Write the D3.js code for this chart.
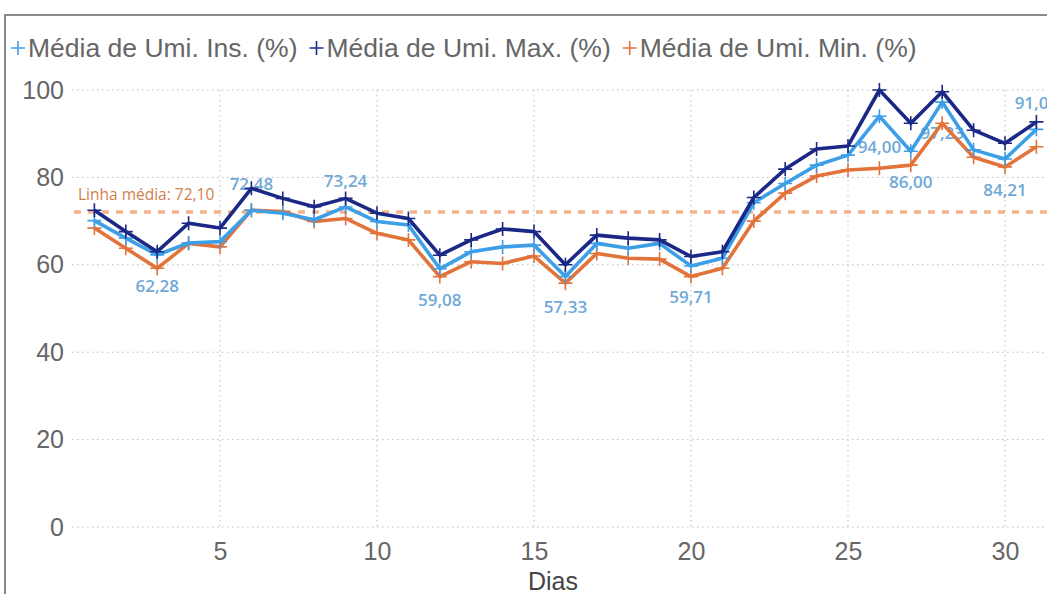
<!DOCTYPE html>
<html lang="pt">
<head>
    <meta charset="UTF-8">
    <title>Umidade por dia</title>
    <script src="https://d3js.org/d3.v7.min.js"></script>
    <style>
        body { margin: 0; background: #fff; }
    </style>
</head>
<body>
<script>
    // dados
    var dias = [1, 2, 3, 4, 5, 6, 7, 8, 9, 10, 11, 12, 13, 14, 15, 16, 17, 18, 19, 20, 21, 22, 23, 24, 25, 26, 27, 28, 29, 30, 31];
    var umiIns = [70.1, 66.1, 62.28, 65.0, 65.3, 72.48, 71.8, 70.3, 73.24, 69.9, 69.1, 59.08, 63.0, 64.1, 64.5, 57.33,
        64.9, 63.8, 64.9, 59.71, 61.5, 74.2, 78.6, 82.8, 85.1, 94.00, 86.00, 97.23, 86.3, 84.21, 91.00];
    var umiMax = [72.5, 67.6, 63.0, 69.5, 68.4, 77.5, 75.2, 73.3, 75.2, 71.8, 70.6, 62.2, 65.7, 68.2, 67.6, 60.0,
        66.8, 66.1, 65.7, 61.9, 63.0, 75.4, 81.9, 86.5, 87.2, 100.0, 92.4, 99.6, 90.8, 87.8, 92.7];
    var umiMin = [68.4, 63.8, 59.2, 64.9, 64.1, 72.5, 72.2, 69.9, 70.6, 67.2, 65.7, 57.3, 60.7, 60.3, 62.0, 55.8,
        62.6, 61.5, 61.3, 57.3, 59.2, 70.0, 76.4, 80.3, 81.7, 82.1, 82.8, 92.4, 84.6, 82.4, 87.0];
    var linhaMedia = 72.10;
    var seriesNomes = ["Média de Umi. Ins. (%)", "Média de Umi. Max. (%)", "Média de Umi. Min. (%)"];
    var xTicks = [5, 10, 15, 20, 25, 30];
    var yTicks = [0, 20, 40, 60, 80, 100];
    // dias com rótulo de dados (série Ins.) e se o rótulo fica acima
    var rotuloDias = [3, 6, 9, 12, 16, 20, 26, 27, 28, 30, 31];
    var rotuloAcima = [false, true, true, false, false, false, false, false, false, false, true];

    var W = 1047, H = 594;
    var cores = ["#3d9fe6", "#1b2886", "#e2733a"];

    var svg = d3.select("body").append("svg")
        .attr("width", W)
        .attr("height", H)
        .style("font-family", "'Liberation Sans', Arial, sans-serif");

    // moldura do visual
    svg.append("path")
        .attr("d", "M5," + H + "V15H" + W)
        .attr("fill", "none")
        .attr("stroke", "#8a8a8a")
        .attr("stroke-width", 2);

    var x = d3.scaleLinear().domain([1, 31]).range([94.4, 1036.4]);
    var y = d3.scaleLinear().domain([0, 100]).range([527, 90]);

    // grade horizontal
    svg.append("g").selectAll("line")
        .data(yTicks)
        .enter().append("line")
        .attr("x1", 72).attr("x2", W)
        .attr("y1", function(d) { return y(d); })
        .attr("y2", function(d) { return y(d); })
        .attr("stroke", "#bdbdbd")
        .attr("stroke-width", 1)
        .attr("stroke-dasharray", "1.5,3.5");

    // grade vertical
    svg.append("g").selectAll("line")
        .data(xTicks)
        .enter().append("line")
        .attr("x1", function(d) { return x(d); })
        .attr("x2", function(d) { return x(d); })
        .attr("y1", y(100)).attr("y2", y(0))
        .attr("stroke", "#bdbdbd")
        .attr("stroke-width", 1)
        .attr("stroke-dasharray", "1.5,3.5");

    // eixo Y
    var yAxis = svg.append("g")
        .attr("transform", "translate(64,0)")
        .call(d3.axisLeft(y).tickValues(yTicks).tickSize(0).tickPadding(0));
    yAxis.select(".domain").remove();
    yAxis.selectAll("text")
        .attr("fill", "#666")
        .style("font-size", "25px")
        .style("font-family", "'Liberation Sans', Arial, sans-serif");

    // eixo X
    var xAxis = svg.append("g")
        .attr("transform", "translate(0," + 542 + ")")
        .call(d3.axisBottom(x).tickValues(xTicks).tickSize(0).tickPadding(0));
    xAxis.select(".domain").remove();
    xAxis.selectAll("text")
        .attr("fill", "#666")
        .style("font-size", "25px")
        .style("font-family", "'Liberation Sans', Arial, sans-serif");

    svg.append("text")
        .attr("x", 553)
        .attr("y", 590)
        .attr("text-anchor", "middle")
        .attr("fill", "#444")
        .style("font-size", "25px")
        .text("Dias");

    // linha média
    svg.append("line")
        .attr("x1", 74).attr("x2", W)
        .attr("y1", y(linhaMedia)).attr("y2", y(linhaMedia))
        .attr("stroke", "#f0a676")
        .attr("stroke-opacity", 0.85)
        .attr("stroke-width", 3.5)
        .attr("stroke-dasharray", "7,7");

    svg.append("text")
        .attr("x", 78)
        .attr("y", y(linhaMedia) - 12)
        .attr("fill", "#d0804c")
        .style("font-family", "'Open Sans', sans-serif")
        .style("font-size", "15.5px")
        .text("Linha média: " + d3.format(".2f")(linhaMedia).replace(".", ","));

    // rótulos de dados (ficam por baixo das linhas)
    svg.append("g").selectAll("text")
        .data(rotuloDias)
        .enter().append("text")
        .attr("x", function(d) { return x(d); })
        .attr("y", function(d, i) {
            var v = umiIns[d - 1];
            return rotuloAcima[i] ? y(v) - 20 : y(v) + 37;
        })
        .attr("text-anchor", "middle")
        .attr("fill", "#6fa9d8")
        .style("font-family", "'Open Sans', sans-serif")
        .style("font-weight", 600)
        .style("font-size", "17px")
        .text(function(d) { return d3.format(".2f")(umiIns[d - 1]).replace(".", ","); });

    var series = [umiIns, umiMax, umiMin];
    var line = d3.line()
        .x(function(d, i) { return x(dias[i]); })
        .y(function(d) { return y(d); });

    // desenha Min, Ins e Max (Max por cima)
    [2, 0, 1].forEach(function(s) {
        var g = svg.append("g");
        g.append("path")
            .datum(series[s])
            .attr("d", line)
            .attr("fill", "none")
            .attr("stroke", cores[s])
            .attr("stroke-width", 3.6)
            .attr("stroke-linejoin", "round");
        g.selectAll("path.marca")
            .data(series[s])
            .enter().append("path")
            .attr("class", "marca")
            .attr("transform", function(d, i) { return "translate(" + x(dias[i]) + "," + y(d) + ")"; })
            .attr("d", "M-7,0H7M0,-7V7")
            .attr("stroke", cores[s])
            .attr("stroke-width", 1.6);
    });

    // legenda: itens em sequência, largura medida
    var legPos = 10;
    seriesNomes.forEach(function(nome, i) {
        var g = svg.append("g").attr("transform", "translate(" + legPos + ",57)");
        g.append("path")
            .attr("d", "M1,-9H15M8,-16V-2")
            .attr("stroke", cores[i])
            .attr("stroke-width", 1.6);
        var t = g.append("text")
            .attr("x", 18)
            .attr("fill", "#666")
            .style("font-size", "26.5px")
            .text(nome);
        legPos += 18 + t.node().getComputedTextLength() + 11;
    });
</script>
</body>
</html>
